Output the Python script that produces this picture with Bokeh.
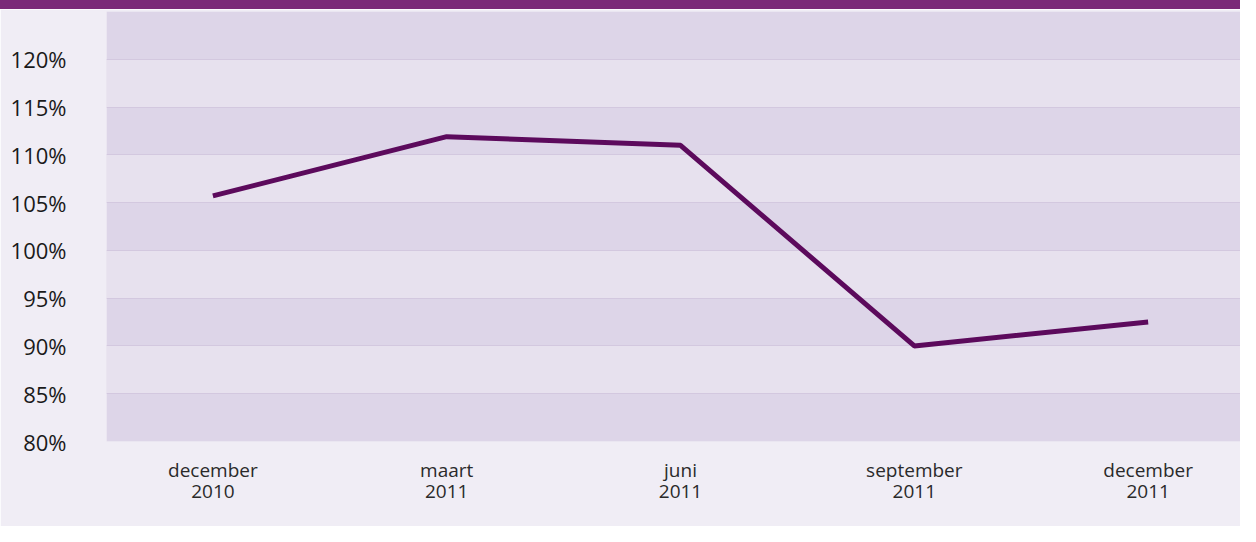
from bokeh.plotting import figure
from bokeh.models import FixedTicker, Range1d, Div
from bokeh.layouts import column
from bokeh.embed import file_html
from bokeh.resources import INLINE

# Data
periods = ["december\n2010", "maart\n2011", "juni\n2011", "september\n2011", "december\n2011"]
values = [105.7, 111.9, 111.0, 90.0, 92.5]
y_ticks = [80, 85, 90, 95, 100, 105, 110, 115, 120]
y_tick_labels = ["80%", "85%", "90%", "95%", "100%", "105%", "110%", "115%", "120%"]

xs = list(range(len(periods)))

BG = "#f0edf5"
DARK = "#ddd5e8"
LIGHT = "#e7e1ee"
FONT = "Open Sans"

p = figure(width=1240, height=517, output_backend="svg", toolbar_location=None,
           x_range=Range1d(-0.455, 4.395), y_range=Range1d(80, 125),
           min_border_left=106, min_border_right=0, min_border_top=2, min_border_bottom=85)
p.border_fill_color = BG
p.background_fill_color = DARK
p.outline_line_color = None

p.line(xs, values, line_color="#5c0a5c", line_width=5)

# y axis
p.yaxis.ticker = FixedTicker(ticks=y_ticks)
p.yaxis.major_label_overrides = {t: l for t, l in zip(y_ticks, y_tick_labels)}
p.yaxis.axis_line_color = None
p.yaxis.major_tick_line_color = None
p.yaxis.minor_tick_line_color = None
p.yaxis.major_label_text_font = FONT
p.yaxis.major_label_text_font_size = "22px"
p.yaxis.major_label_text_color = "#1a1a1a"
p.yaxis.major_label_standoff = 34

# x axis
p.xaxis.ticker = FixedTicker(ticks=xs)
p.xaxis.major_label_overrides = {i: l for i, l in zip(xs, periods)}
p.xaxis.axis_line_color = None
p.xaxis.major_tick_line_color = None
p.xaxis.minor_tick_line_color = None
p.xaxis.major_label_text_font = FONT
p.xaxis.major_label_text_font_size = "19px"
p.xaxis.major_label_text_color = "#2a2a2a"
p.xaxis.major_label_text_line_height = 0.82
p.xaxis.major_label_standoff = 9

# grid
p.xgrid.grid_line_color = None
p.ygrid.ticker = FixedTicker(ticks=y_ticks + [125])
p.ygrid.grid_line_color = "#d3c8df"
p.ygrid.grid_line_width = 1
p.ygrid.band_fill_color = LIGHT
p.ygrid.band_fill_alpha = 1.0

bar = Div(text="", width=1240, height=9, margin=0,
          styles={"background-color": "#7b2a78"})
p.margin = 0
layout = column(bar, p, spacing=0, margin=0)

open("out.html", "w").write(file_html(layout, INLINE))
